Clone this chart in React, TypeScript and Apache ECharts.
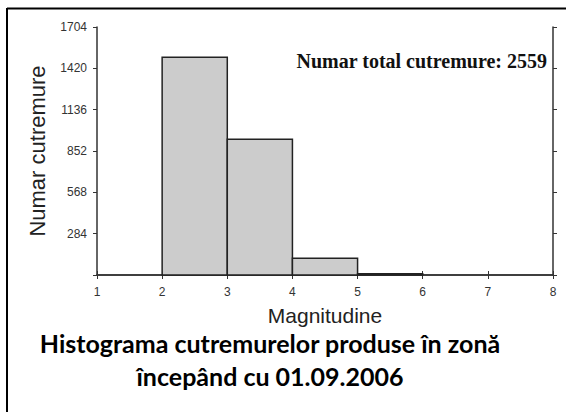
import { useEffect, useRef } from 'react';
import * as echarts from 'echarts';

// histogram bins (magnitude ranges) and counts
const binStarts = [2, 3, 4, 5];
const binEnds = [3, 4, 5, 6];
const counts = [1496, 932, 115, 8];

const totalLabel = 'Numar total cutremure: 2559';
const yTicks = [0, 284, 568, 852, 1136, 1420, 1704];
const titleLines = ['Histograma cutremurelor produse în zonă', 'începând cu 01.09.2006'];

export default function App() {
  const chartRef = useRef<HTMLDivElement>(null);

  useEffect(() => {
    if (!chartRef.current) return;
    const chart = echarts.init(chartRef.current, undefined, { renderer: 'svg' });

    const axisColor = '#333';
    const sans = 'Liberation Sans';

    const option: echarts.EChartsOption = {
      animation: false,
      backgroundColor: '#fff',
      grid: { left: 97, right: 13, top: 27, bottom: 137 },
      xAxis: [
        {
          type: 'value',
          min: 1,
          max: 8,
          interval: 1,
          name: 'Magnitudine',
          nameLocation: 'middle',
          nameGap: 30,
          nameTextStyle: { fontFamily: sans, fontSize: 21, color: '#222' },
          axisLine: { show: true, lineStyle: { color: axisColor, width: 1.5 } },
          axisTick: { show: true, length: 4, lineStyle: { color: axisColor } },
          axisLabel: { fontFamily: sans, fontSize: 12, color: '#333', margin: 11 },
          splitLine: { show: false },
        },
        {
          type: 'value',
          position: 'top',
          min: 1,
          max: 8,
          interval: 1,
          axisLine: { show: true, lineStyle: { color: axisColor, width: 1.5 } },
          axisTick: { show: true, length: 4, lineStyle: { color: axisColor } },
          axisLabel: { show: false },
          splitLine: { show: false },
        },
      ],
      yAxis: [
        {
          type: 'value',
          min: yTicks[0],
          max: yTicks[yTicks.length - 1],
          interval: yTicks[1] - yTicks[0],
          name: 'Numar cutremure',
          nameLocation: 'middle',
          nameGap: 49,
          nameTextStyle: { fontFamily: sans, fontSize: 22, color: '#222' },
          axisLine: { show: true, lineStyle: { color: axisColor, width: 1.5 } },
          axisTick: { show: true, length: 4, lineStyle: { color: axisColor } },
          axisLabel: {
            fontFamily: sans,
            fontSize: 12,
            color: '#333',
            margin: 10,
            formatter: (v: number) => (v === 0 ? '' : String(v)),
          },
          splitLine: { show: false },
        },
        {
          type: 'value',
          position: 'right',
          min: yTicks[0],
          max: yTicks[yTicks.length - 1],
          interval: yTicks[1] - yTicks[0],
          axisLine: { show: true, lineStyle: { color: axisColor, width: 1.5 } },
          axisTick: { show: true, length: 4, lineStyle: { color: axisColor } },
          axisLabel: { show: false },
          splitLine: { show: false },
        },
      ],
      series: [
        {
          type: 'custom',
          xAxisIndex: 0,
          yAxisIndex: 0,
          data: counts.map((c, i) => [binStarts[i], binEnds[i], c]),
          renderItem: (_params: any, api: any) => {
            const p0 = api.coord([api.value(0), api.value(2)]);
            const p1 = api.coord([api.value(1), 0]);
            return {
              type: 'rect',
              shape: { x: p0[0], y: p0[1], width: p1[0] - p0[0], height: p1[1] - p0[1] },
              style: { fill: '#cccccc', stroke: '#222', lineWidth: 1.5 },
            };
          },
        },
      ],
      graphic: [
        {
          type: 'line',
          shape: { x1: 7, y1: 8.5, x2: 566, y2: 8.5 },
          style: { stroke: '#000', lineWidth: 2 },
        },
        {
          type: 'line',
          shape: { x1: 7, y1: 8, x2: 7, y2: 412 },
          style: { stroke: '#000', lineWidth: 2 },
        },
        {
          type: 'text',
          x: 547,
          y: 61,
          style: {
            text: totalLabel,
            fontFamily: 'Liberation Serif',
            fontWeight: 'bold',
            fontSize: 20,
            fill: '#111',
            align: 'right',
            verticalAlign: 'middle',
          },
        },
        {
          type: 'text',
          x: 270,
          y: 343,
          style: {
            text: titleLines[0],
            fontFamily: 'Lato',
            fontWeight: 'bold',
            fontSize: 25,
            fill: '#000',
            align: 'center',
            verticalAlign: 'middle',
          },
        },
        {
          type: 'text',
          x: 270,
          y: 376,
          style: {
            text: titleLines[1],
            fontFamily: 'Lato',
            fontWeight: 'bold',
            fontSize: 25,
            fill: '#000',
            align: 'center',
            verticalAlign: 'middle',
          },
        },
      ],
    };

    chart.setOption(option);

    return () => {
      chart.dispose();
    };
  }, []);

  return (
    <div
      ref={chartRef}
      style={{ position: 'fixed', left: 0, top: 0, width: '566px', height: '412px' }}
    />
  );
}
